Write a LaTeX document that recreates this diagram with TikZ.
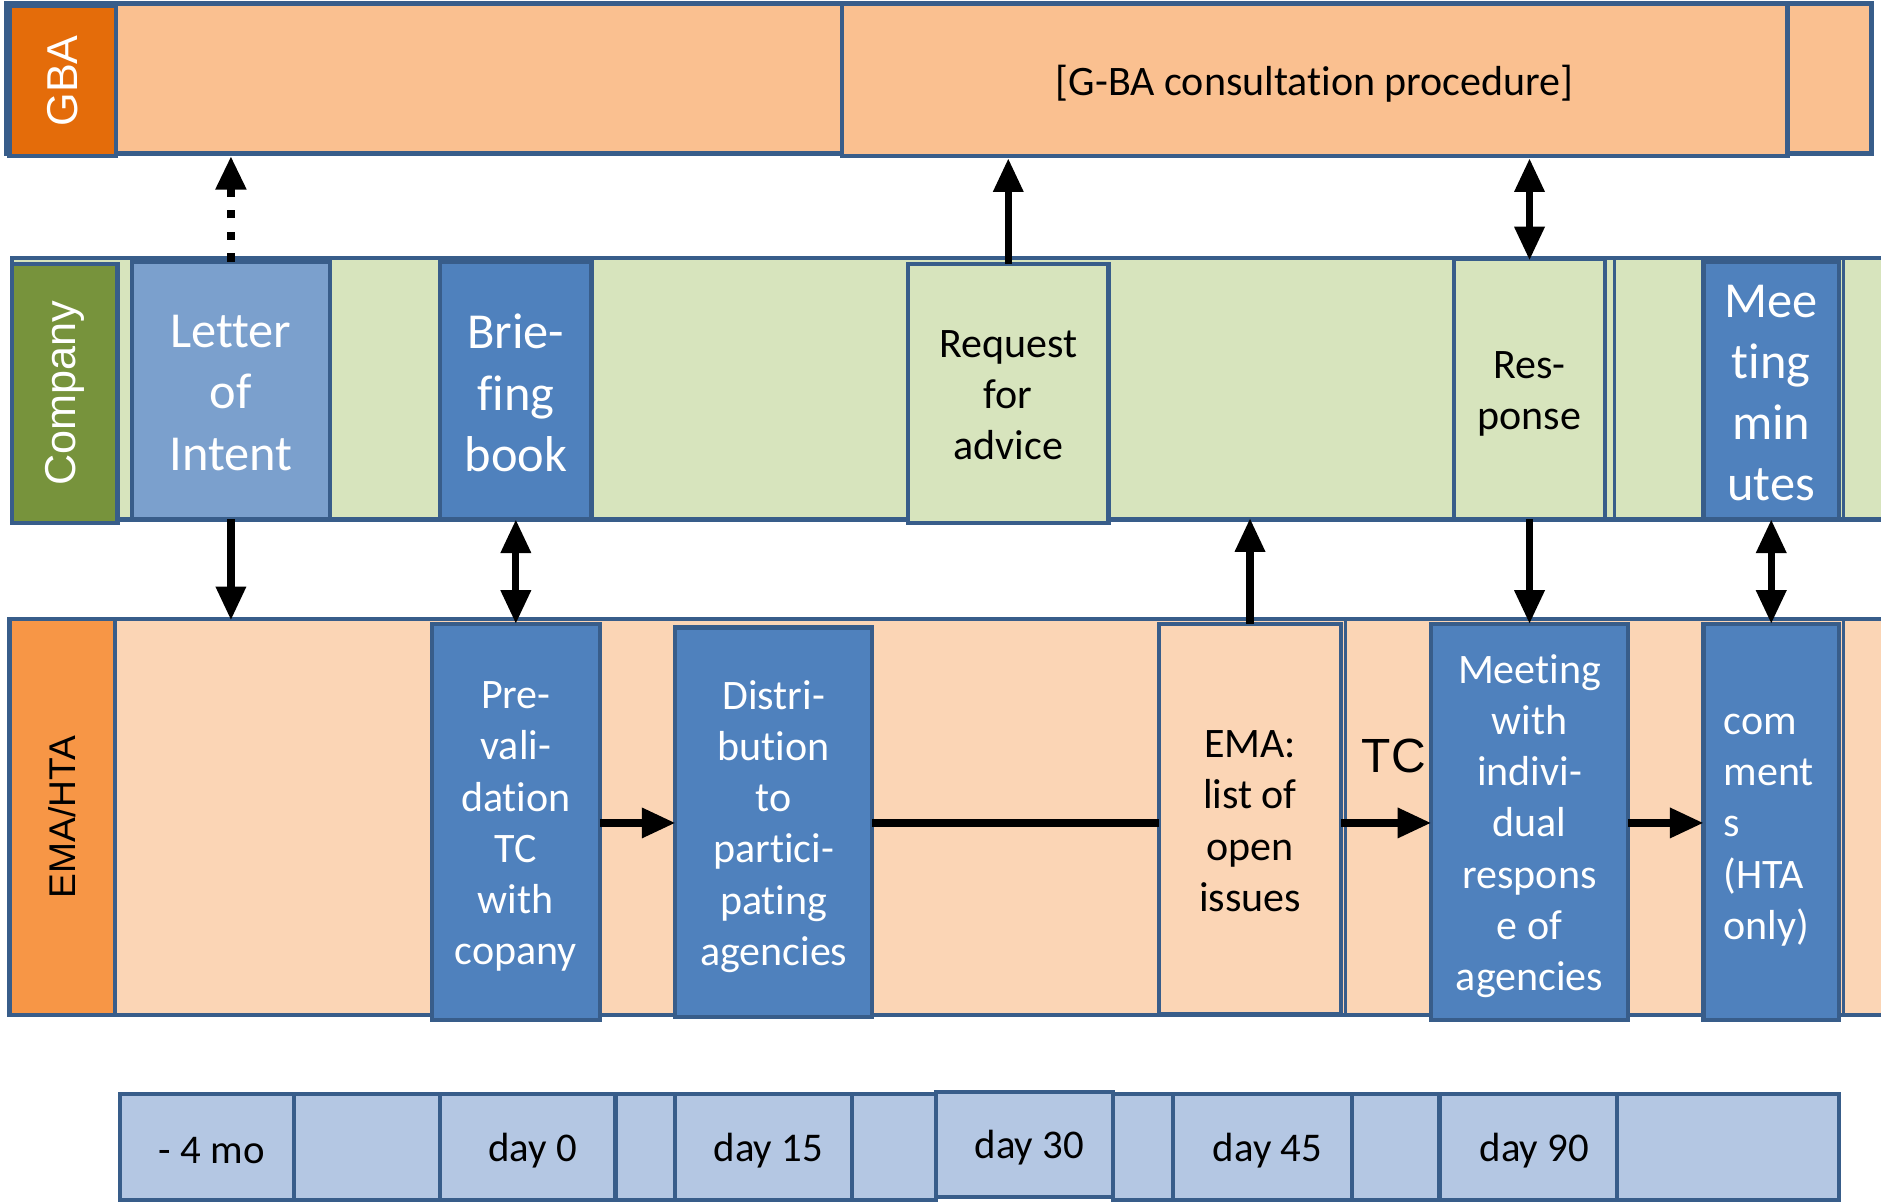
\documentclass[tikz,border=0pt]{standalone}
\usepackage{fontspec}
\setmainfont{Carlito}[Ligatures=NoCommon]
\newfontfamily\arialf{Liberation Sans}
\usetikzlibrary{arrows.meta}
\definecolor{bordc}{HTML}{385D8A}
\definecolor{gbaband}{HTML}{FAC090}
\definecolor{gbalab}{HTML}{E46C0A}
\definecolor{compband}{HTML}{D7E4BD}
\definecolor{complab}{HTML}{77933C}
\definecolor{emaband}{HTML}{FBD5B5}
\definecolor{emalab}{HTML}{F79646}
\definecolor{bluebox}{HTML}{4F81BD}
\definecolor{lblue}{HTML}{7BA0CD}
\definecolor{tlblue}{HTML}{B4C7E3}
\begin{document}
\begin{tikzpicture}[x=1pt,y=-1pt,
  cell/.style={draw=bordc, line width=3.5pt, inner sep=0pt, outer sep=0pt, anchor=north west},
  bigtxt/.style={font=\fontsize{42}{51}\selectfont, align=center},
  normtxt/.style={font=\fontsize{35}{42.7}\selectfont, align=center},
  tltxt/.style={font=\fontsize{34}{40}\selectfont},
  lanetxt/.style={font=\arialf\fontsize{36}{40}\selectfont, rotate=90},
  tip/.style={-{Triangle[width=24pt,length=28pt]}},
  arr/.style={line width=6pt, tip},
  darr/.style={line width=6pt, {Triangle[width=24pt,length=28pt]}-{Triangle[width=24pt,length=28pt]}},
  dots/.style={line width=7pt, dash pattern=on 7pt off 11pt}
]
\useasboundingbox (0,0) rectangle (1568,1003);
\fill[white] (0,0) rectangle (1568,1003);

% ---------- bands ----------
\node[cell, fill=gbaband, minimum width=1555pt, minimum height=125pt] (gbab) at (5,3) {};
\node[cell, fill=gbaband, minimum width=788pt, minimum height=127pt] (consult) at (702,3) {};
\node[font=\fontsize{35}{42}\selectfont] (consult-t) at ([yshift=-3pt]consult.center) {[G-BA consultation procedure]};
\node[cell, fill=gbalab, minimum width=89pt, minimum height=125pt] (gbal) at (8,5) {};
\node[lanetxt, text=white] (gbal-t) at (gbal.center) {GBA};

\node[cell, fill=compband, minimum width=1565pt, minimum height=218pt] (compb) at (10,215) {};
\node[cell, fill=complab, minimum width=88pt, minimum height=216pt] (compl) at (10,220) {};
\node[lanetxt, text=white] (compl-t) at (compl.center) {Company};

\node[cell, fill=emaband, minimum width=1567pt, minimum height=330pt] (emab) at (8,516) {};
\node[cell, fill=emalab, minimum width=88pt, minimum height=330pt] (emal) at (8,516) {};
\node[lanetxt, text=black, font=\arialf\fontsize{31}{36}\selectfont] (emal-t) at (emal.center) {EMA/HTA};

% thin cell separators
\draw[bordc, line width=2.5pt] (1346,215) -- (1346,433);
\draw[bordc, line width=2.5pt] (1537,215) -- (1537,433);
\draw[bordc, line width=2.5pt] (1122,516) -- (1122,846);
\draw[bordc, line width=2.5pt] (1537,516) -- (1537,846);

% ---------- company row ----------
\node[cell, fill=lblue, minimum width=165pt, minimum height=215pt] (letter) at (110,218) {};
\node[bigtxt, text=white] (letter-t) at ([yshift=-2pt]letter.center) {Letter\\of\\Intent};
\node[cell, fill=bluebox, minimum width=126pt, minimum height=215pt] (brief) at (367,218) {};
\node[bigtxt, text=white] (brief-t) at ([yshift=-2pt]brief.center) {Brie-\\fing\\book};
\node[cell, fill=compband, minimum width=167pt, minimum height=216pt] (request) at (757,220) {};
\node[normtxt] (request-t) at ([yshift=-1.5pt]request.center) {Request\\for\\advice};
\node[cell, fill=compband, minimum width=126pt, minimum height=217pt] (response) at (1212,216) {};
\node[normtxt] (response-t) at ([yshift=-4pt]response.center) {Res-\\ponse};
\node[cell, fill=bluebox, minimum width=113pt, minimum height=215pt] (minutes) at (1420,218) {};
\node[bigtxt, text=white] (minutes-t) at ([yshift=-2pt]minutes.center) {Mee\\ting\\min\\utes};

% ---------- EMA row ----------
\node[cell, fill=bluebox, minimum width=140pt, minimum height=330pt] (prev) at (360,520) {};
\node[normtxt, text=white] (prev-t) at ([yshift=-4pt]prev.center) {Pre-\\vali-\\dation\\TC\\with\\copany};
\node[cell, fill=bluebox, minimum width=164pt, minimum height=325pt] (distr) at (563,523) {};
\node[normtxt, text=white] (distr-t) at ([yshift=-3.5pt]distr.center) {Distri-\\bution\\to\\partici-\\pating\\agencies};
\node[cell, fill=emaband, minimum width=152pt, minimum height=325pt] (emalist) at (966,520) {};
\node[normtxt] (emalist-t) at ([yshift=-2pt]emalist.center) {EMA:\\list of\\open\\issues};
\node[cell, fill=bluebox, minimum width=164pt, minimum height=330pt] (meetw) at (1193,520) {};
\node[normtxt, text=white] (meetw-t) at ([yshift=-3.5pt]meetw.center) {Meeting\\with\\indivi-\\dual\\respons\\e of\\agencies};
\node[cell, fill=bluebox, minimum width=113pt, minimum height=330pt] (comments) at (1420,520) {};
\node[normtxt, align=left, text=white] (comments-t) at ([xshift=-2pt,yshift=-7pt]comments.center) {com\\ment\\s\\(HTA\\only)};

\node[font=\arialf\fontsize{40}{44}\selectfont] (tc) at (1162,630) {TC};

% ---------- timeline ----------
\node[cell, fill=tlblue, minimum width=145pt, minimum height=88pt] (t1) at (100,912) {};
\node[cell, fill=tlblue, minimum width=122pt, minimum height=88pt] (t2) at (245,912) {};
\node[cell, fill=tlblue, minimum width=146pt, minimum height=88pt] (t3) at (367,912) {};
\node[cell, fill=tlblue, minimum width=50pt, minimum height=88pt] (t4) at (513,912) {};
\node[cell, fill=tlblue, minimum width=147pt, minimum height=88pt] (t5) at (563,912) {};
\node[cell, fill=tlblue, minimum width=70pt, minimum height=88pt] (t6) at (710,912) {};
\node[cell, fill=tlblue, minimum width=148pt, minimum height=88pt] (t7) at (780,910) {};
\node[cell, fill=tlblue, minimum width=50pt, minimum height=88pt] (t8) at (928,912) {};
\node[cell, fill=tlblue, minimum width=149pt, minimum height=88pt] (t9) at (978,912) {};
\node[cell, fill=tlblue, minimum width=73pt, minimum height=88pt] (t10) at (1127,912) {};
\node[cell, fill=tlblue, minimum width=148pt, minimum height=88pt] (t11) at (1200,912) {};
\node[cell, fill=tlblue, minimum width=185pt, minimum height=88pt] (t12) at (1348,912) {};
\node[tltxt] (t1-t) at ([xshift=4pt,yshift=-3pt]t1.center) {- 4 mo};
\node[tltxt] (t3-t) at ([xshift=4pt,yshift=-3pt]t3.center) {day 0};
\node[tltxt] (t5-t) at ([xshift=4pt,yshift=-3pt]t5.center) {day 15};
\node[tltxt] (t7-t) at ([xshift=4pt,yshift=-3pt]t7.center) {day 30};
\node[tltxt] (t9-t) at ([xshift=4pt,yshift=-3pt]t9.center) {day 45};
\node[tltxt] (t11-t) at ([xshift=5pt,yshift=-3pt]t11.center) {day 90};

% ---------- connectors ----------
\draw[dots, tip] (letter.north) -- ([yshift=-2pt]letter.north |- gbab.south);
\draw[arr] (request.north) -- ([yshift=-2pt]request.north |- consult.south);
\draw[darr] ([yshift=-2pt]response.north |- compb.north) -- ([yshift=-2pt]response.north |- consult.south);
\draw[arr] (letter.south) -- ([yshift=-1pt]letter.south |- emab.north);
\draw[darr] (brief.south) -- (brief.south |- prev.north);
\draw[arr] (emalist.north) -- ([yshift=1pt]emalist.north |- compb.south);
\draw[arr] (response.south) -- (response.south |- meetw.north);
\draw[darr] (minutes.south) -- (minutes.south |- comments.north);
\draw[arr] (prev.east |- 0,686) -- (distr.west |- 0,686);
\draw[line width=6pt] (distr.east |- 0,686) -- (emalist.west |- 0,686);
\draw[arr] (emalist.east |- 0,686) -- (meetw.west |- 0,686);
\draw[arr] (meetw.east |- 0,686) -- (comments.west |- 0,686);
\end{tikzpicture}
\end{document}
